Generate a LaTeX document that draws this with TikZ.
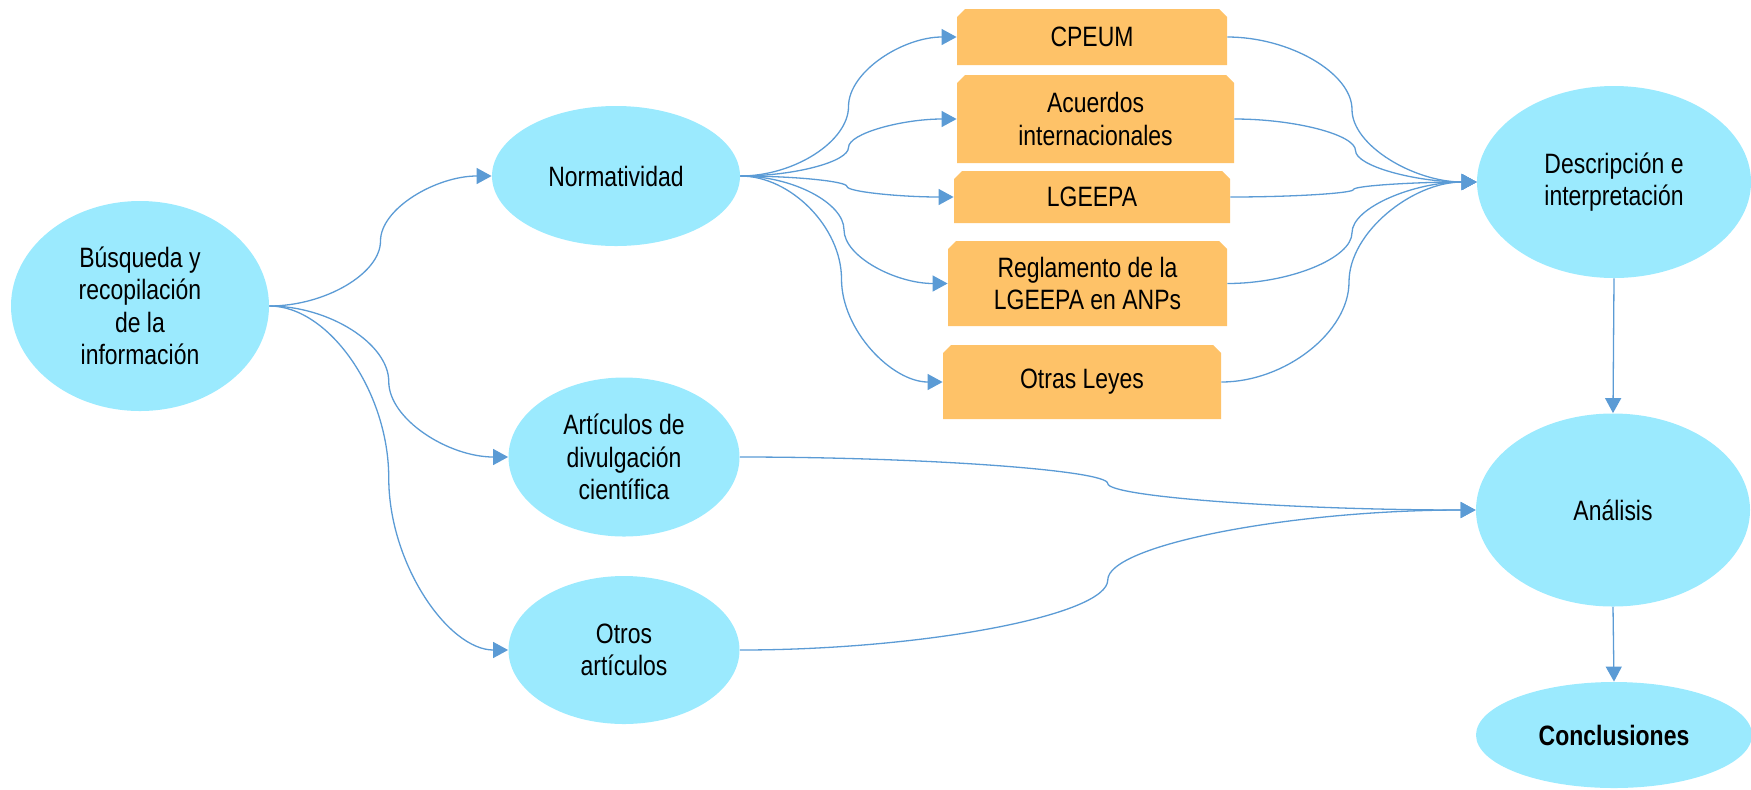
\documentclass[tikz,border=0pt]{standalone}
\usepackage{fontspec}
\setmainfont{Liberation Sans}[FakeStretch=0.82]
\usetikzlibrary{shapes.geometric,arrows.meta,calc}
\definecolor{ellc}{RGB}{155,234,254}
\definecolor{boxc}{RGB}{254,194,104}
\definecolor{linec}{RGB}{91,155,213}
\newcommand{\cconn}[2]{%
  \draw[conn] let \p1=(#1), \p2=(#2), \n1={(\x1+\x2)/2} in
  (\p1) .. controls ({(\x1+\n1)/2},\y1) and ({\n1*1pt},{(3*\y1+\y2)/4}) .. ({\n1*1pt},{(\y1+\y2)/2})
  .. controls ({\n1*1pt},{(\y1+3*\y2)/4}) and ({(\n1+\x2)/2},\y2) .. (\p2);}
\tikzset{
  ell/.style={ellipse, fill=ellc, inner sep=0pt, align=center, font=\fontsize{14}{16.2}\selectfont},
  obox/.style={rectangle, inner sep=0pt, align=center, font=\fontsize{14}{16.2}\selectfont,
    path picture={\fill[boxc] (path picture bounding box.south west)
      -- ([yshift=-4pt]path picture bounding box.north west)
      -- ([xshift=4pt]path picture bounding box.north west)
      -- ([xshift=-4pt]path picture bounding box.north east)
      -- ([yshift=-4pt]path picture bounding box.north east)
      -- (path picture bounding box.south east) -- cycle;}},
  conn/.style={draw=linec, line width=0.65pt, -{Triangle[length=7.5pt,width=8pt]}, color=linec}
}
\begin{document}
\begin{tikzpicture}[x=0.5pt,y=-0.5pt]
\useasboundingbox (0,0) rectangle (1751,789);
% ellipses
\node[ell, minimum width=129pt, minimum height=105pt] (bus) at (140,306) {Búsqueda y\\recopilación\\de la\\información};
\node[ell, minimum width=124pt, minimum height=70pt] (norm) at (616,176) {Normatividad};
\node[ell, minimum width=115.5pt, minimum height=79.5pt] (art) at (624,457) {Artículos de\\divulgación\\científica};
\node[ell, minimum width=115.5pt, minimum height=74pt] (otr) at (624,650) {Otros\\artículos};
\node[ell, minimum width=137pt, minimum height=96pt] (desc) at (1614,182) {Descripción e\\interpretación};
\node[ell, minimum width=137pt, minimum height=96.5pt] (anal) at (1613,510) {Análisis};
\node[ell, minimum width=138pt, minimum height=53pt, font=\fontsize{14}{16.2}\selectfont\bfseries] (concl) at (1614,735) {Conclusiones};
% boxes
\node[obox, minimum width=135pt, minimum height=28pt] (cpeum) at (1092,37) {CPEUM};
\node[obox, minimum width=138.5pt, minimum height=44pt] (acu) at (1095.5,119) {Acuerdos\\internacionales};
\node[obox, minimum width=138pt, minimum height=26pt] (lge) at (1092,197) {LGEEPA};
\node[obox, minimum width=139.5pt, minimum height=42.5pt] (reg) at (1087.5,283.5) {Reglamento de la\\LGEEPA en ANPs};
\node[obox, minimum width=139pt, minimum height=37pt] (otl) at (1082,382) {Otras Leyes};
% connectors
\cconn{bus.east}{norm.west}
\cconn{bus.east}{art.west}
\cconn{bus.east}{otr.west}
\cconn{norm.east}{cpeum.west}
\cconn{norm.east}{acu.west}
\cconn{norm.east}{lge.west}
\cconn{norm.east}{reg.west}
\cconn{norm.east}{otl.west}
\cconn{cpeum.east}{desc.west}
\cconn{acu.east}{desc.west}
\cconn{lge.east}{desc.west}
\cconn{reg.east}{desc.west}
\cconn{otl.east}{desc.west}
\cconn{art.east}{anal.west}
\cconn{otr.east}{anal.west}
\draw[conn] (desc.south) -- (anal.north);
\draw[conn] (anal.south) -- (concl.north);
\end{tikzpicture}
\end{document}
